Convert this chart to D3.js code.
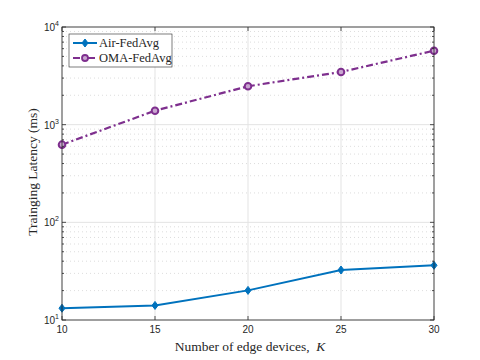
<!DOCTYPE html>
<html><head><meta charset="utf-8">
<script src="https://cdn.jsdelivr.net/npm/d3@7"></script>
<style>body{margin:0;background:#fff}svg{display:block}</style>
</head><body>
<svg id="c" width="480" height="360"></svg>
<script>
const devices = [10, 15, 20, 25, 30];
const airFedAvg = [13.2, 14.1, 20.1, 32.5, 36.3];
const omaFedAvg = [624, 1390, 2473, 3465, 5720];
const seriesNames = ["Air-FedAvg", "OMA-FedAvg"];
const xTicks = [10, 15, 20, 25, 30];
const yTickExps = [1, 2, 3, 4];

const svg = d3.select("#c");
const L = 62, R = 434, T = 27, B = 320;
const x = d3.scaleLinear().domain([10, 30]).range([L, R]);
const y = d3.scaleLog().domain([10, 10000]).range([B, T]);
const axisCol = "#262626";

// minor grid
const minors = [];
for (let e = 1; e < 4; e++) for (let m = 2; m <= 9; m++) minors.push(m * Math.pow(10, e));
const g = svg.append("g");
g.selectAll("line.mg").data(minors).join("line")
  .attr("x1", L).attr("x2", R).attr("y1", d => y(d)).attr("y2", d => y(d))
  .attr("stroke", "#d4d4d4").attr("stroke-width", 0.8).attr("stroke-dasharray", "1,3");
// major grid
g.selectAll("line.gy").data(yTickExps.map(e => Math.pow(10, e))).join("line")
  .attr("x1", L).attr("x2", R).attr("y1", d => y(d)).attr("y2", d => y(d))
  .attr("stroke", "#e3e3e3").attr("stroke-width", 1);
g.selectAll("line.gx").data(xTicks).join("line")
  .attr("x1", d => x(d)).attr("x2", d => x(d)).attr("y1", T).attr("y2", B)
  .attr("stroke", "#e3e3e3").attr("stroke-width", 1);

// series
const lineGen = d3.line().x((d, i) => x(devices[i])).y(d => y(d));
const blue = "#0072BD", purple = "#7E2F8E";
svg.append("path").datum(airFedAvg).attr("d", lineGen)
  .attr("fill", "none").attr("stroke", blue).attr("stroke-width", 2);
svg.append("path").datum(omaFedAvg).attr("d", lineGen)
  .attr("fill", "none").attr("stroke", purple).attr("stroke-width", 2.2)
  .attr("stroke-dasharray", "7,3,2,3");
const diamond = (cx, cy) => `M${cx},${cy-4}L${cx+3},${cy}L${cx},${cy+4}L${cx-3},${cy}Z`;
svg.selectAll("path.dm").data(airFedAvg).join("path")
  .attr("d", (d, i) => diamond(x(devices[i]), y(d)))
  .attr("fill", blue).attr("stroke", blue).attr("stroke-width", 1);
svg.selectAll("circle.om").data(omaFedAvg).join("circle")
  .attr("cx", (d, i) => x(devices[i])).attr("cy", d => y(d)).attr("r", 3.3)
  .attr("fill", "#c9a6d0").attr("stroke", purple).attr("stroke-width", 2);

// axes box
svg.append("rect").attr("x", L).attr("y", T).attr("width", R - L).attr("height", B - T)
  .attr("fill", "none").attr("stroke", axisCol).attr("stroke-width", 0.8);

// ticks
const tk = svg.append("g").attr("stroke", axisCol).attr("stroke-width", 0.8);
xTicks.forEach(v => {
  tk.append("line").attr("x1", x(v)).attr("x2", x(v)).attr("y1", B).attr("y2", B - 4);
  tk.append("line").attr("x1", x(v)).attr("x2", x(v)).attr("y1", T).attr("y2", T + 4);
});
yTickExps.forEach(e => {
  const v = Math.pow(10, e);
  tk.append("line").attr("x1", L).attr("x2", L + 4).attr("y1", y(v)).attr("y2", y(v));
  tk.append("line").attr("x1", R).attr("x2", R - 4).attr("y1", y(v)).attr("y2", y(v));
});
minors.forEach(v => {
  tk.append("line").attr("x1", L).attr("x2", L + 2).attr("y1", y(v)).attr("y2", y(v));
  tk.append("line").attr("x1", R).attr("x2", R - 2).attr("y1", y(v)).attr("y2", y(v));
});

// tick labels
const sans = "Liberation Sans, Arial, sans-serif";
const serif = "Liberation Serif, Times New Roman, serif";
svg.selectAll("text.xt").data(xTicks).join("text")
  .attr("x", d => x(d)).attr("y", B + 13).attr("text-anchor", "middle")
  .attr("font-family", sans).attr("font-size", 10).attr("fill", axisCol).text(d => d);
yTickExps.forEach(e => {
  const t = svg.append("text").attr("x", L - 3).attr("y", y(Math.pow(10, e)) + 4)
    .attr("text-anchor", "end").attr("font-family", sans).attr("font-size", 10).attr("fill", axisCol);
  t.append("tspan").text("10");
  t.append("tspan").attr("dy", -5).attr("font-size", 7).text(e);
});

// axis labels
const xl = svg.append("text").attr("x", 250).attr("y", 351).attr("text-anchor", "middle")
  .attr("font-family", serif).attr("font-size", 13.5).attr("fill", axisCol);
xl.append("tspan").text("Number of edge devices,\u00a0\u00a0");
xl.append("tspan").attr("font-style", "italic").text("K");
svg.append("text").attr("transform", "translate(37,172) rotate(-90)").attr("text-anchor", "middle")
  .attr("font-family", serif).attr("font-size", 13.5).attr("fill", axisCol)
  .text("Trainging Latency (ms)");

// legend
const lg = svg.append("g");
lg.append("rect").attr("x", 69).attr("y", 34).attr("width", 103).attr("height", 33)
  .attr("fill", "#fff").attr("stroke", axisCol).attr("stroke-width", 0.6);
const rows = [
  {name: seriesNames[0], col: blue, dash: null, yy: 43},
  {name: seriesNames[1], col: purple, dash: "7,3,2,3", yy: 58}
];
rows.forEach((r, i) => {
  lg.append("line").attr("x1", 73).attr("x2", 97).attr("y1", r.yy).attr("y2", r.yy)
    .attr("stroke", r.col).attr("stroke-width", 2).attr("stroke-dasharray", r.dash);
  if (i === 0) lg.append("path").attr("d", diamond(85, r.yy)).attr("fill", blue).attr("stroke", blue);
  else lg.append("circle").attr("cx", 85).attr("cy", r.yy).attr("r", 3).attr("fill", "#c9a6d0")
    .attr("stroke", purple).attr("stroke-width", 1.8);
  lg.append("text").attr("x", 99).attr("y", r.yy + 4).attr("font-family", serif).attr("font-size", 12.5)
    .attr("fill", axisCol).text(r.name);
});
</script>
</body></html>
